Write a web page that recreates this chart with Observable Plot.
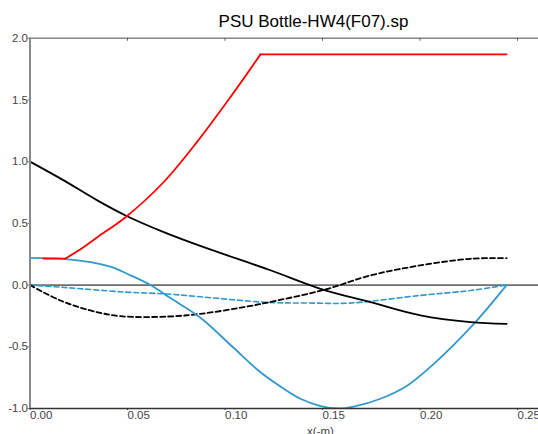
<!DOCTYPE html>
<html>
<head>
<meta charset="utf-8">
<script src="https://cdn.jsdelivr.net/npm/d3@7"></script>
<script src="https://cdn.jsdelivr.net/npm/@observablehq/plot@0.6"></script>
<style>
  html, body { margin: 0; padding: 0; background: #fff; overflow: hidden; }
  #wrap { width: 538px; height: 434px; overflow: hidden; position: relative; }
  #wrap svg { max-width: none !important; width: 640px; height: 434px; }
</style>
</head>
<body>
<div id="wrap"></div>
<script>
const title = "PSU Bottle-HW4(F07).sp";
const xLabel = "x(-m)";
const xTicks = [0, 0.05, 0.10, 0.15, 0.20, 0.25];
const yTicks = [-1.0, -0.5, 0.0, 0.5, 1.0, 1.5, 2.0];

// red: flat start, smooth rise, flat top
const redX = [0.0068, 0.0182, 0.0259, 0.0345, 0.049, 0.0686, 0.0857, 0.1028, 0.1182, 0.2444];
const redY = [0.215, 0.215, 0.29, 0.388, 0.55, 0.835, 1.16, 1.523, 1.869, 1.869];
const redRiseStart = 1, redRiseEnd = 8; // indices bounding the curved part

const blackX = [0, 0.0173, 0.0345, 0.049, 0.0686, 0.0891, 0.1233, 0.149, 0.1746, 0.2002, 0.2259, 0.2444];
const blackY = [1.0, 0.848, 0.686, 0.564, 0.429, 0.307, 0.12, -0.03, -0.139, -0.246, -0.30, -0.314];

const blackDashX = [0, 0.0156, 0.031, 0.0464, 0.0705, 0.0874, 0.1096, 0.1268, 0.151, 0.1746, 0.2, 0.226, 0.2444];
const blackDashY = [0, -0.125, -0.206, -0.252, -0.255, -0.233, -0.179, -0.125, -0.038, 0.078, 0.159, 0.213, 0.218];

const blueDashX = [0, 0.0156, 0.049, 0.07, 0.0874, 0.1216, 0.145, 0.164, 0.2, 0.226, 0.2444];
const blueDashY = [0, -0.017, -0.057, -0.072, -0.095, -0.14, -0.146, -0.146, -0.084, -0.044, 0];

const blueX = [0, 0.0172, 0.031, 0.042, 0.05, 0.0618, 0.072, 0.0874, 0.1045, 0.1182, 0.1302, 0.1387, 0.149, 0.158, 0.166, 0.1797, 0.1934, 0.2071, 0.2276, 0.2444];
const blueY = [0.221, 0.213, 0.186, 0.145, 0.09, 0.0, -0.105, -0.265, -0.51, -0.706, -0.84, -0.921, -0.98, -1.0, -0.985, -0.921, -0.815, -0.638, -0.314, 0.0];

const pts = (xs, ys) => xs.map((x, i) => ({x, y: ys[i]}));
const red = pts(redX, redY);
const redFlatA = red.slice(0, redRiseStart + 1);
const redRise = red.slice(redRiseStart, redRiseEnd + 1);
const redFlatB = red.slice(redRiseEnd);
const black = pts(blackX, blackY);
const blackDash = pts(blackDashX, blackDashY);
const blueDash = pts(blueDashX, blueDashY);
const blue = pts(blueX, blueY);

const BLUE = "#3399cc";
const RED = "#ff0000";
const fmtY = d => d.toFixed(1);
const fmtX = d => d.toFixed(2);

const chart = Plot.plot({
  width: 640,
  height: 434,
  marginTop: 37.7,
  marginBottom: 26,
  marginLeft: 29.5,
  marginRight: 25.5,
  x: {domain: [0, 0.3]},
  y: {domain: [-1, 2]},
  style: {fontFamily: "'Liberation Sans', Arial, sans-serif", fontSize: "11.5px", color: "#444", background: "#fff", maxWidth: "none"},
  marks: [
    Plot.ruleY([0], {stroke: "#000", strokeWidth: 1}),
    Plot.ruleY([2], {stroke: "#888", strokeWidth: 1.5}),
    Plot.ruleX(xTicks, {y1: 2, y2: 1.975, stroke: "#666"}),
    Plot.axisY(yTicks, {tickSize: 2, tickPadding: 0, tickFormat: fmtY, label: null, stroke: "#777", fill: "#444"}),
    Plot.axisX(xTicks, {tickSize: 2, tickPadding: 0, textAnchor: "start", tickFormat: fmtX, label: null, stroke: "#333", fill: "#444"}),
    Plot.line(blueDash, {x: "x", y: "y", stroke: BLUE, strokeWidth: 1.6, strokeDasharray: "5,3", curve: "catmull-rom"}),
    Plot.line(blackDash, {x: "x", y: "y", stroke: "#000", strokeWidth: 1.8, strokeDasharray: "5,3", curve: "catmull-rom"}),
    Plot.line(blue, {x: "x", y: "y", stroke: BLUE, strokeWidth: 1.8, curve: "catmull-rom", clip: true}),
    Plot.line(black, {x: "x", y: "y", stroke: "#000", strokeWidth: 1.8, curve: "catmull-rom"}),
    Plot.line(redFlatA, {x: "x", y: "y", stroke: RED, strokeWidth: 1.8}),
    Plot.line(redRise, {x: "x", y: "y", stroke: RED, strokeWidth: 1.8, curve: "catmull-rom"}),
    Plot.line(redFlatB, {x: "x", y: "y", stroke: RED, strokeWidth: 1.8}),
    Plot.ruleY([-1], {stroke: "#333", strokeWidth: 1.5}),
    Plot.ruleX([0], {stroke: "#888", strokeWidth: 2}),
    Plot.text([title], {frameAnchor: "top", lineAnchor: "bottom", dy: -11, dx: -9, fontSize: 17, fill: "#000"}),
    Plot.text([xLabel], {frameAnchor: "bottom", lineAnchor: "bottom", dy: 26, dx: -2, fontSize: 11.5, fill: "#444"})
  ]
});
document.getElementById("wrap").appendChild(chart);
</script>
</body>
</html>
